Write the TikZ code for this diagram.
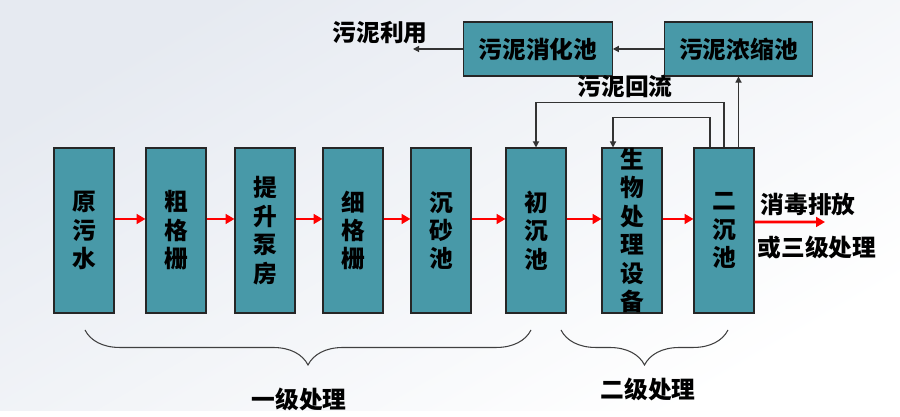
\documentclass[tikz,border=0pt]{standalone}
\usepackage{fontspec}
\setmainfont{Noto Sans CJK SC}
\usetikzlibrary{arrows.meta,decorations.pathreplacing}
\definecolor{pool}{HTML}{4899A8}
\definecolor{bgtint}{HTML}{E6EAF1}
\begin{document}
\begin{tikzpicture}[x=0.02cm, y=0.02cm,
  txt/.style={font=\bfseries\fontsize{13.5}{16.2}\selectfont},
  box/.style={txt, draw=black!85, line width=0.6pt, fill=pool, align=center,
              minimum width=1.2cm, minimum height=3.3cm, inner sep=0pt},
  topbox/.style={txt, draw=black!85, line width=0.6pt, fill=pool,
                 minimum width=2.97cm, minimum height=1.08cm, inner sep=0pt},
  flow/.style={-{Triangle[length=5pt,width=5.5pt]}, red, line width=1.5pt},
  arr/.style={-{Triangle[length=3.5pt,width=3.5pt]}, black!80, line width=0.7pt},
  brc/.style={decorate, decoration={brace, mirror, amplitude=0.7cm}, black!75, line width=0.6pt}
]
  \shade[top color=bgtint, bottom color=white, shading angle=30] (0,0) rectangle (900,411);

  \node[box] (raw) at (84,180.5) {原\\污\\水};
  \node[box] (coarse) at (176,180.5) {粗\\格\\栅};
  \node[box] (pump) at (265,180.5) {提\\升\\泵\\房};
  \node[box] (fine) at (353,180.5) {细\\格\\栅};
  \node[box] (grit) at (441,180.5) {沉\\砂\\池};
  \node[box] (primary) at (536,180.5) {初\\沉\\池};
  \node[box] (bio) at (632,180.5) {生\\物\\处\\理\\设\\备};
  \node[box] (secondary) at (724,180.5) {二\\沉\\池};

  \node[topbox] (digest) at (538,362) {污泥消化池};
  \node[topbox] (thicken) at (738.5,362) {污泥浓缩池};

  \node[txt] (reuse) at (380,378) {污泥利用};
  \node[txt] (returnlbl) at (625,324) {污泥回流};
  \node[txt] (outlbl1) at (808,207) {消毒排放};
  \node[txt] (outlbl2) at (817,163) {或三级处理};
  \coordinate (reuseend) at (413,362);
  \coordinate (outend) at (825,189);

  \draw[flow] ([yshift=0.23cm]raw.east) -- ([yshift=0.23cm]coarse.west);
  \draw[flow] ([yshift=0.23cm]coarse.east) -- ([yshift=0.23cm]pump.west);
  \draw[flow] ([yshift=0.23cm]pump.east) -- ([yshift=0.23cm]fine.west);
  \draw[flow] ([yshift=0.23cm]fine.east) -- ([yshift=0.23cm]grit.west);
  \draw[flow] ([yshift=0.23cm]grit.east) -- ([yshift=0.23cm]primary.west);
  \draw[flow] ([yshift=0.23cm]primary.east) -- ([yshift=0.23cm]bio.west);
  \draw[flow] ([yshift=0.23cm]bio.east) -- ([yshift=0.23cm]secondary.west);
  \draw[flow] ([yshift=0.17cm]secondary.east) -- (outend);

  \draw[arr] (thicken.west) -- (digest.east);
  \draw[arr] (digest.west) -- (reuseend);
  \draw[arr] (thicken.south |- secondary.north) -- (thicken.south);
  \draw[arr] (secondary.north) -- ++(0,45) -| (primary.north);
  \draw[arr] ([xshift=-0.28cm]secondary.north) -- ++(0,30) -| ([xshift=-0.38cm]bio.north);

  \draw[brc] (85,81) -- (531,81);
  \draw[brc] (561,81) -- (728,81);
  \node[txt] (stage1) at (299,12) {一级处理};
  \node[txt] (stage2) at (648,22) {二级处理};
\end{tikzpicture}
\end{document}
